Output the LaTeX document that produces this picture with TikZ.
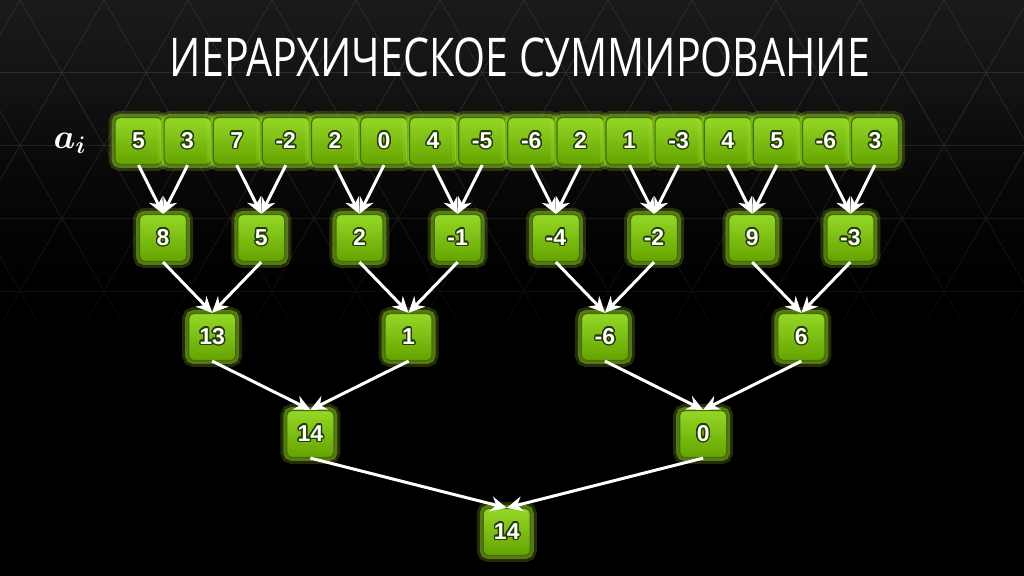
\documentclass[tikz,border=0pt]{standalone}
\usepackage{fontspec}
\usepackage{bm}
\usepackage[copies]{contour}
\setmainfont{Liberation Sans}
\newfontfamily\titlefont[FakeStretch=0.77]{Open Sans}
\usetikzlibrary{arrows.meta,calc,positioning,fadings}

\definecolor{boxtop}{HTML}{94D826}
\definecolor{boxbot}{HTML}{64A300}
\definecolor{boxedge}{HTML}{416F00}
\definecolor{glow}{HTML}{A6E82A}
\definecolor{numshade}{HTML}{243C00}
\definecolor{bgtop}{HTML}{1A1A1A}
\definecolor{latt}{HTML}{2C2C2C}

\contourlength{0.7pt}
\contournumber{16}
\newcommand{\boxnum}[1]{\contour{numshade}{#1}}

\tikzset{
  sumbox/.style={rounded corners=2.5pt, minimum width=23.5pt, minimum height=23.5pt,
    inner sep=0pt, top color=boxtop, bottom color=boxbot, draw=boxedge, line width=0.6pt,
    text=white, font=\fontsize{11.5}{13}\selectfont\bfseries,
    preaction={draw=glow, line width=6.5pt, opacity=0.2},
    preaction={draw=glow, line width=3.5pt, opacity=0.4}},
  sumarrow/.style={draw=white, line width=1.5pt, -{Stealth[length=8pt,width=7.5pt]}},
}

\begin{document}
\begin{tikzpicture}[x=0.5pt,y=0.5pt]
% background
\fill[black] (0,0) rectangle (1024,576);
\shade[top color=bgtop, bottom color=black] (0,250) rectangle (1024,576);
\begin{scope}
\clip (0,0) rectangle (1024,576);
\foreach \h in {504,431,358,285}
  \draw[latt, line width=0.4pt] (0,\h) -- (1024,\h);
\foreach \k in {-6,...,16} {
  \draw[latt, line width=0.4pt] (\k*84+20,576) -- ++(-200,-346.4);
  \draw[latt, line width=0.4pt] (\k*84+20,576) -- ++(200,-346.4);
}
\end{scope}
\fill[black, path fading=north] (0,200) rectangle (1024,480);
\fill[black] (0,0) rectangle (1024,200);

% title
\node[text=white, font=\titlefont\fontsize{26.7}{30}\selectfont] (title) at (520,519)
  {ИЕРАРХИЧЕСКОЕ СУММИРОВАНИЕ};
\node[text=white, font=\fontsize{17}{20}\selectfont] (ai) at (70,433) {$\bm{a_i}$};

% level 0
\foreach \v [count=\i] in {5,3,7,-2,2,0,4,-5,-6,2,1,-3,4,5,-6,3}
  \node[sumbox] (a\i) at ({89.4+49.1*\i},435) {\boxnum{\v}};

% level 1
\node[sumbox] (b1) at ($(a1)!0.5!(a2) + (0,-97)$) {\boxnum{8}};
\node[sumbox] (b2) at ($(a3)!0.5!(a4) + (0,-97)$) {\boxnum{5}};
\node[sumbox] (b3) at ($(a5)!0.5!(a6) + (0,-97)$) {\boxnum{2}};
\node[sumbox] (b4) at ($(a7)!0.5!(a8) + (0,-97)$) {\boxnum{-1}};
\node[sumbox] (b5) at ($(a9)!0.5!(a10) + (0,-97)$) {\boxnum{-4}};
\node[sumbox] (b6) at ($(a11)!0.5!(a12) + (0,-97)$) {\boxnum{-2}};
\node[sumbox] (b7) at ($(a13)!0.5!(a14) + (0,-97)$) {\boxnum{9}};
\node[sumbox] (b8) at ($(a15)!0.5!(a16) + (0,-97)$) {\boxnum{-3}};

% level 2
\node[sumbox] (c1) at ($(b1)!0.5!(b2) + (0,-99)$) {\boxnum{13}};
\node[sumbox] (c2) at ($(b3)!0.5!(b4) + (0,-99)$) {\boxnum{1}};
\node[sumbox] (c3) at ($(b5)!0.5!(b6) + (0,-99)$) {\boxnum{-6}};
\node[sumbox] (c4) at ($(b7)!0.5!(b8) + (0,-99)$) {\boxnum{6}};

% level 3
\node[sumbox] (d1) at ($(c1)!0.5!(c2) + (0,-97)$) {\boxnum{14}};
\node[sumbox] (d2) at ($(c3)!0.5!(c4) + (0,-97)$) {\boxnum{0}};

% level 4
\node[sumbox] (e1) at ($(d1)!0.5!(d2) + (0,-98)$) {\boxnum{14}};

% arrows
\foreach \i in {1,...,8} {
  \pgfmathtruncatemacro\l{2*\i-1}
  \pgfmathtruncatemacro\r{2*\i}
  \draw[sumarrow] (a\l.south) -- (b\i.north);
  \draw[sumarrow] (a\r.south) -- (b\i.north);
}
\foreach \i in {1,...,4} {
  \pgfmathtruncatemacro\l{2*\i-1}
  \pgfmathtruncatemacro\r{2*\i}
  \draw[sumarrow] (b\l.south) -- (c\i.north);
  \draw[sumarrow] (b\r.south) -- (c\i.north);
}
\draw[sumarrow] (c1.south) -- (d1.north);
\draw[sumarrow] (c2.south) -- (d1.north);
\draw[sumarrow] (c3.south) -- (d2.north);
\draw[sumarrow] (c4.south) -- (d2.north);
\draw[sumarrow] (d1.south) -- (e1.north);
\draw[sumarrow] (d2.south) -- (e1.north);
\end{tikzpicture}
\end{document}
